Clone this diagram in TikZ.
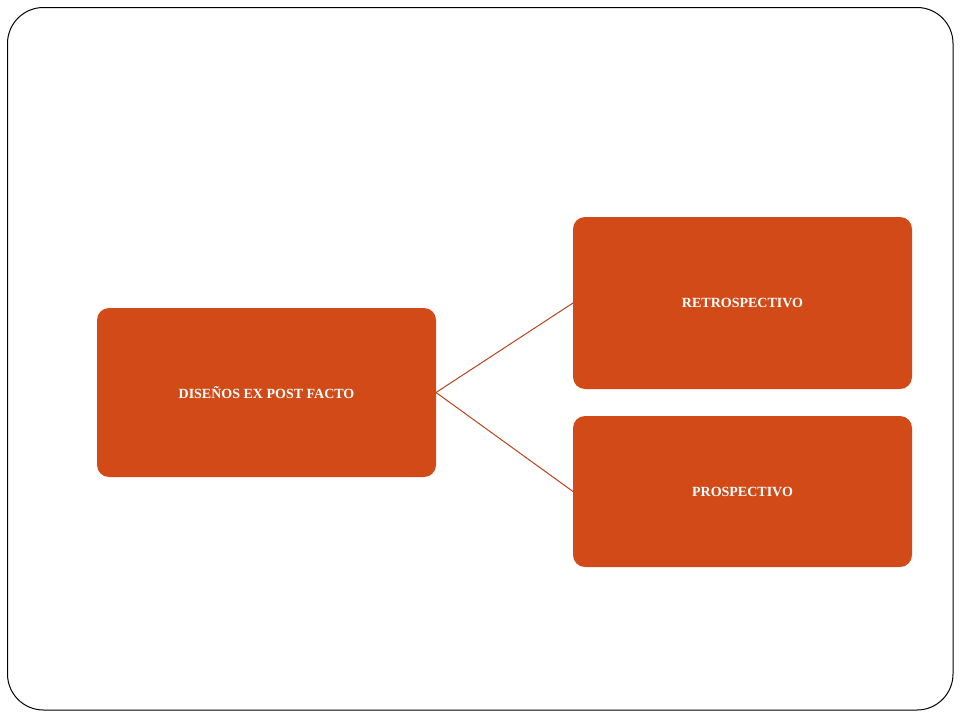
\documentclass[tikz,border=0pt]{standalone}
\usepackage{fontspec}
\setmainfont{Liberation Serif}
\definecolor{boxfill}{HTML}{D14A17}
\definecolor{linkc}{HTML}{B5431F}
\begin{document}
\begin{tikzpicture}[x=1pt,y=-1pt,
  box/.style={fill=boxfill,rounded corners=12pt,inner sep=0pt,outer sep=0pt,
    minimum width=339pt,text=white,font=\bfseries\fontsize{14}{16}\selectfont},
  link/.style={draw=linkc,line width=1pt}]
\useasboundingbox (0,0) rectangle (960,720);
\draw[line width=1pt,rounded corners=36pt] (7.5,7.5) rectangle (953,710);
\node[box,minimum height=169pt] (a) at (266.5,392.5) {DISEÑOS EX POST FACTO};
\node[box,minimum height=172pt] (b) at (742.5,303) {RETROSPECTIVO};
\node[box,minimum height=151pt] (c) at (742.5,491.5) {PROSPECTIVO};
\draw[link] (a.east) -- (b.west);
\draw[link] (a.east) -- (c.west);
\end{tikzpicture}
\end{document}
